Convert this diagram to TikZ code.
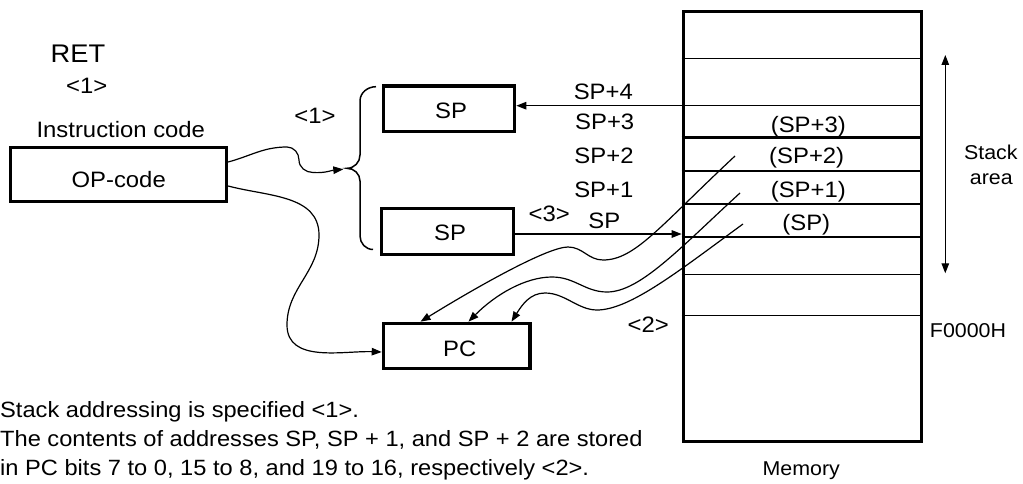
\documentclass[tikz,border=0pt]{standalone}
\usepackage{fontspec}
\setmainfont{Liberation Sans}[FakeStretch=1.07]
\usetikzlibrary{arrows.meta,calc}
\newcommand\fsmain{\fontsize{22.3}{26}\selectfont}
\newcommand\fsbot{\fontsize{22.1}{28.6}\selectfont}
\newcommand\fssmall{\fontsize{20}{23}\selectfont}
\newcommand\fsret{\fontsize{25.5}{28}\selectfont}
\begin{document}
\begin{tikzpicture}[x=1pt,y=-1pt,
  box/.style={draw,line width=3.3pt,inner sep=0pt},
  lbl/.style={anchor=base,inner sep=0pt,font=\fsmain},
  lblsmall/.style={anchor=base,inner sep=0pt,font=\fssmall},
  lblbot/.style={anchor=base west,inner sep=0pt,font=\fsbot},
  conn/.style={line width=1.2pt,-{Triangle[length=10pt,width=7.5pt]}},
  thinline/.style={line width=1pt},
  midline/.style={line width=1.6pt},
  thickline/.style={line width=2.4pt},
]
\useasboundingbox (0,0) rectangle (1023,484);

% ---------- memory ----------
\node[draw,line width=3pt,inner sep=0pt,minimum width=238.6pt,minimum height=430.3pt] (mem) at (802.5,226.7) {};
\draw[thinline]  (mem.west |- 0,58.3)  -- (mem.east |- 0,58.3);
\draw[thickline] (mem.west |- 0,137.7) -- (mem.east |- 0,137.7);
\draw[thickline] (mem.west |- 0,171)   -- (mem.east |- 0,171);
\draw[thickline] (mem.west |- 0,203.7) -- (mem.east |- 0,203.7);
\draw[midline]   (mem.west |- 0,237)   -- (mem.east |- 0,237);
\draw[thinline]  (mem.west |- 0,274.3) -- (mem.east |- 0,274.3);
\draw[thinline]  (mem.west |- 0,315.3) -- (mem.east |- 0,315.3);

\node[lbl] (c3) at (808.3,132.2) {(SP+3)};
\node[lbl] (c2) at (806.7,163.8) {(SP+2)};
\node[lbl] (c1) at (808.3,197.2) {(SP+1)};
\node[lbl] (c0) at (806.3,230.5) {(SP)};

\node[lblsmall] (st1) at (990.8,160) {Stack};
\node[lblsmall] (st2) at (991.3,185) {area};
\node[lblsmall] (fh) at (968,337.3) {F0000H};
\node[lblsmall] (memlbl) at (801.3,475) {Memory};

\coordinate (satop) at (945.3,55);
\coordinate (sabot) at (945.3,273.3);
\draw[line width=1.2pt,{Triangle[length=10pt,width=7.5pt]}-{Triangle[length=10pt,width=7.5pt]}] (satop) -- (sabot);

% ---------- left part ----------
\node[anchor=base,inner sep=0pt,font=\fsret] (ret) at (78,62.7) {RET};
\node[lbl] (one1) at (86.7,94) {<1>};
\node[lbl] (ic) at (120.8,137.3) {Instruction code};
\node[box,minimum width=216pt,minimum height=54.3pt] (op) at (118.5,174.5) {};
\node[lbl] (opt) at (118.7,187.3) {OP-code};
\node[lbl] (one2) at (315,123.5) {<1>};

\node[box,minimum width=131.3pt,minimum height=45.7pt] (sptop) at (449,108.8) {};
\node[lbl] (sptopt) at (451,118.3) {SP};
\node[box,minimum width=132.1pt,minimum height=46pt] (spbot) at (447.5,231.3) {};
\node[lbl] (spbott) at (450,240) {SP};
\node[box,minimum width=146.7pt,minimum height=45pt] (pc) at (456.7,345.8) {};
\node[lbl] (pct) at (459.7,356.7) {PC};

\node[lbl] (l4) at (603.3,100) {SP+4};
\node[lbl] (l3) at (604.7,130) {SP+3};
\node[lbl] (l2) at (604,164) {SP+2};
\node[lbl] (l1) at (603.8,197.7) {SP+1};
\node[lbl] (l0) at (604.3,228.3) {SP};
\node[lbl] (three) at (549.3,221.7) {<3>};
\node[lbl] (two) at (648.3,332) {<2>};

% brace
\coordinate (btip) at (347,168.3);
\draw[line width=1.5pt] (376,86.7) to[out=180,in=90] (360,101) -- (360,155)
  to[out=-90,in=0] (btip) to[out=0,in=90] (360,181) -- (360,236)
  to[out=-90,in=180] (373,249.5);

% OP-code -> brace
\draw[conn] (op.east |- 0,162) to[out=15,in=180] (287,147) to[out=0,in=90] (299,160)
  to[out=-90,in=180] (313,172.5) to[out=-4,in=185] ($(btip)+(-3.7,1)$);

% OP-code -> PC
\draw[conn] (op.east |- 0,186) to[out=-15,in=90] (319,235) to[out=-90,in=90] (287,325)
  to[out=-90,in=178] (pc.west |- 0,352);

% SP+4 -> top SP
\coordinate (sp4) at (648.3,105.7);
\draw[midline] (sp4) -- (mem.east |- sp4);
\draw[conn] (sp4) -- (sptop.east |- sp4);

% bottom SP -> memory
\coordinate (spin) at (mem.west |- 0,234);
\draw[conn] (spbot.east |- spin) -- (spin);

% memory -> PC
\coordinate (m1) at (735,156);
\coordinate (m2) at (740,193);
\coordinate (m3) at (743,224);
\draw[conn] (m1) .. controls (660,226) and (635,260) .. (603,260)
  .. controls (588,260) and (583,247) .. (568,247)
  .. controls (548,247) and (480,285) .. ($(pc.north west)+(38.8,0)$);
\draw[conn] (m2) .. controls (680,248) and (640,292) .. (607,292)
  .. controls (585,292) and (575,277) .. (552,277)
  .. controls (525,277) and (495,295) .. ($(pc.north west)+(86.8,0)$);
\draw[conn] (m3) .. controls (680,270) and (630,310) .. (597,310)
  .. controls (578,310) and (565,293) .. (545,293)
  .. controls (530,293) and (522,305) .. ($(pc.north west)+(129.8,0)$);

% bottom text
\node[lblbot] (t1) at (0,417.7) {Stack addressing is specified <1>.};
\node[lblbot] (t2) at (0,446.3) {The contents of addresses SP, SP + 1, and SP + 2 are stored};
\node[lblbot] (t3) at (0,475) {in PC bits 7 to 0, 15 to 8, and 19 to 16, respectively <2>.};
\end{tikzpicture}
\end{document}
